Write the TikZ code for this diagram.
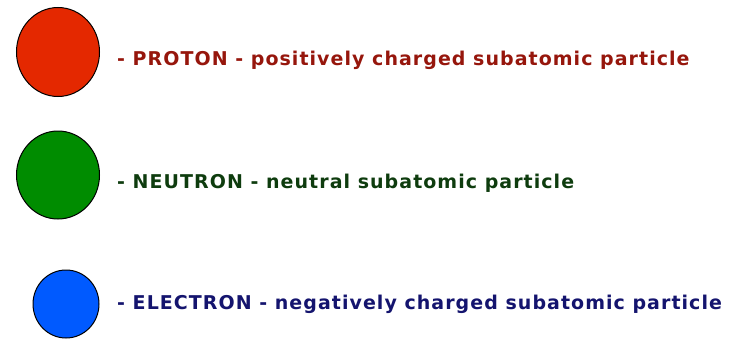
\documentclass[tikz,border=0pt]{standalone}
\usepackage{fontspec}
\newfontfamily\labelfont[LetterSpace=5.5]{DejaVu Sans}
\definecolor{ptred}{RGB}{228,40,0}
\definecolor{ptredtext}{RGB}{150,22,12}
\definecolor{ntgreen}{RGB}{0,140,0}
\definecolor{ntgreentext}{RGB}{14,60,14}
\definecolor{elblue}{RGB}{0,90,255}
\definecolor{elbluetext}{RGB}{20,20,110}
\usetikzlibrary{positioning,shapes.geometric}

\begin{document}
\begin{tikzpicture}[x=1pt, y=-1pt,
        particle/.style={ellipse, draw=black, line width=1pt, inner sep=0pt},
        desc/.style={anchor=west, inner sep=0pt, font=\labelfont\bfseries\fontsize{19}{22}\selectfont}
      ]
        \useasboundingbox (0,0) rectangle (735,340);

        \node[particle, fill=ptred, minimum width=83pt, minimum height=89pt]  (proton)   at (58,52)  {};
        \node[particle, fill=ntgreen, minimum width=83pt, minimum height=88pt] (neutron)  at (58,175) {};
        \node[particle, fill=elblue, minimum width=66pt, minimum height=68pt]  (electron) at (66,304) {};

        \node[desc, ptredtext]   (protonlbl)   at (117,60)  {- PROTON - positively charged subatomic particle};
        \node[desc, ntgreentext] (neutronlbl)  at (117,183) {- NEUTRON - neutral subatomic particle};
        \node[desc, elbluetext]  (electronlbl) at (117,304) {- ELECTRON - negatively charged subatomic particle};
      \end{tikzpicture}
\end{document}
